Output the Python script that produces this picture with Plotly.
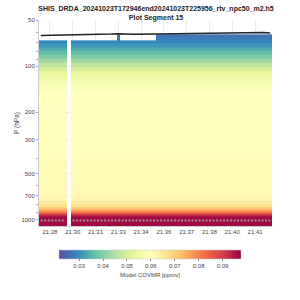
import numpy as np
import plotly.graph_objects as go

# ---------------- data ----------------
n_prof = 66                       # number of retrieved profiles in the segment
missing_cols = [8]                # profile with no retrieval at all
tall_cols = [22] + list(range(33, 66))   # profiles whose data reach up to the top line

# pressure cell edges (hPa) and model COVMR (ppmv) per layer
p_edges = [62, 64.5, 67.5, 71, 75, 79, 84, 89, 95, 101, 108, 116, 125, 135,
           150, 200, 400, 600, 700, 760, 800, 830, 860, 885, 910, 930, 955, 1100]
covmr = [0.0265, 0.0275, 0.029, 0.031, 0.033, 0.036, 0.039, 0.043, 0.047,
         0.050, 0.053, 0.055, 0.057, 0.0585, 0.0595, 0.060, 0.0605, 0.061,
         0.062, 0.064, 0.067, 0.071, 0.076, 0.081, 0.087, 0.093, 0.097]
n_top_rows = 2                    # top layers missing for the shorter profiles

# top boundary line (profile index, pressure hPa)
top_idx = [0, 10, 20, 22, 26, 33, 40, 50, 58, 63, 65]
top_p = [63.0, 62.6, 61.8, 61.4, 61.9, 61.8, 61.4, 61.1, 60.7, 60.3, 60.8]

# surface pressure (hPa) per profile
psurf = [1013.0] * n_prof

tick_labels = ["21:28", "21:30", "21:31", "21:33", "21:34",
               "21:36", "21:37", "21:38", "21:40", "21:41"]
y_ticks = [50, 100, 200, 300, 500, 700, 1000]
y_minor = [60, 70, 80, 90, 400, 600, 800, 900]

zmin, zmax = 0.0215, 0.0977

# ---------------- build field ----------------
z = np.tile(np.array(covmr)[:, None], (1, n_prof)).astype(float)
for c in range(n_prof):
    if c not in tall_cols:
        z[:n_top_rows, c] = np.nan
for c in missing_cols:
    z[:, c] = np.nan

ps = [None if i in missing_cols else v for i, v in enumerate(psurf)]

fig = go.Figure()
fig.add_trace(go.Heatmap(
    z=z, x=list(range(n_prof)), y=p_edges,
    colorscale="Spectral", reversescale=True, zmin=zmin, zmax=zmax,
    colorbar=dict(
        orientation="h", x=0.476, xanchor="center", y=-0.068, yanchor="top",
        len=202, lenmode="pixels", thickness=9, outlinewidth=0.5,
        outlinecolor="#ccc",
        tickvals=[0.03, 0.04, 0.05, 0.06, 0.07, 0.08, 0.09],
        ticktext=["0.03", "0.04", "0.05", "0.06", "0.07", "0.08", "0.09"],
        ticks="outside", ticklen=2, tickcolor="#888",
        tickfont=dict(size=6, color="#444"),
        title=dict(text="Model COVMR [ppmv]", side="bottom",
                   font=dict(size=6, color="#444")),
    ),
    hoverinfo="skip",
))
fig.add_trace(go.Scatter(
    x=top_idx, y=top_p, mode="lines",
    line=dict(color="#222", width=1.5), showlegend=False, hoverinfo="skip",
))
fig.add_trace(go.Scatter(
    x=list(range(n_prof)), y=ps, mode="lines", connectgaps=False,
    line=dict(color="rgb(150,150,150)", width=2, dash="2px,1.5px"),
    showlegend=False, hoverinfo="skip",
))

tickpos = np.linspace(2.6, 60.7, len(tick_labels))
fig.update_layout(
    width=300, height=300,
    margin=dict(l=39, r=28, t=20, b=62),
    paper_bgcolor="white", plot_bgcolor="white",
    font=dict(family="Liberation Sans, Arial, sans-serif", size=6, color="#444"),
    title=dict(
        text="<b>SHIS_DRDA_20241023T172946end20241023T225956_rtv_npc50_m2.h5</b><br><b>Plot Segment 15</b>",
        font=dict(size=7, color="#222"),
        x=0.52, xanchor="center", yref="container", y=0.963, yanchor="middle",
    ),
    showlegend=False,
)
fig.update_xaxes(
    range=[-0.5, n_prof - 0.5], tickvals=tickpos, ticktext=tick_labels,
    showgrid=True, gridcolor="rgba(0,0,0,0.08)", gridwidth=1,
    layer="above traces", ticks="", zeroline=False,
    showline=True, linecolor="#ccc", linewidth=1,
    tickfont=dict(size=6, color="#444"),
)
fig.update_yaxes(
    type="log", range=[np.log10(1100), np.log10(50)],
    tickvals=y_ticks, ticktext=[str(v) for v in y_ticks],
    minor=dict(tickvals=y_minor, ticks="outside", ticklen=2, tickcolor="#aaa",
               showgrid=False),
    showgrid=True, gridcolor="rgba(0,0,0,0.08)", gridwidth=1,
    layer="above traces", ticks="outside", ticklen=2, tickcolor="#aaa",
    showline=True, linecolor="#ccc", linewidth=1, zeroline=False,
    tickfont=dict(size=6, color="#444"),
    title=dict(text="P (hPa)", font=dict(size=6.5, color="#444"), standoff=1),
)

fig.write_html("out.html")
